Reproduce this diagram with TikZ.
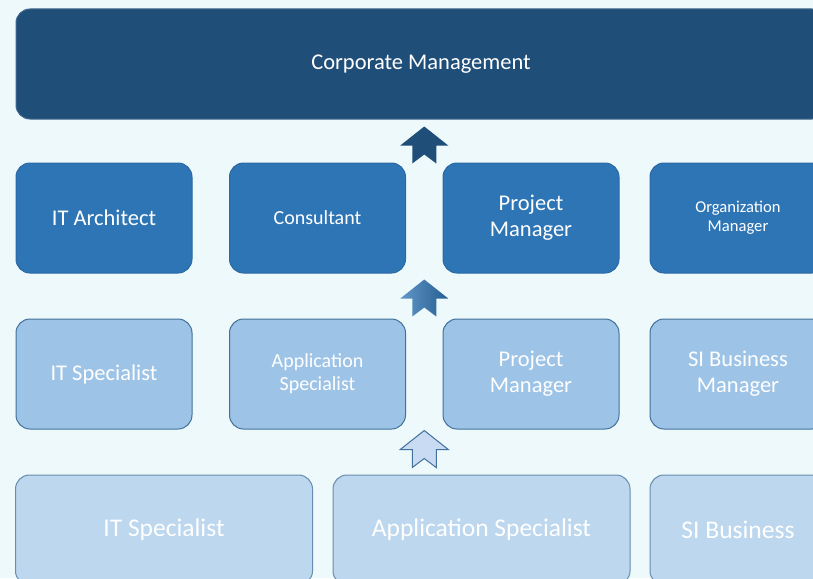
\documentclass[tikz,border=0pt]{standalone}
\usepackage{fontspec}
\setmainfont{Carlito}
\usepackage{xcolor}
\usetikzlibrary{positioning,calc}
\definecolor{darkblue}{HTML}{1F4E79}
\definecolor{midblue}{HTML}{2E75B6}
\definecolor{lightblue}{HTML}{9DC3E6}
\definecolor{paleblue}{HTML}{BDD7EE}
\definecolor{lineblue}{HTML}{41719C}
\definecolor{arrowpale}{HTML}{C9DBF2}
\definecolor{bgcyan}{HTML}{EEF9FB}

\tikzset{
  uparrow/.pic={
    \path[pic actions] (-12,0) -- (-12,-18) -- (-24,-18) -- (0,-37)
      -- (24,-18) -- (12,-18) -- (12,0) -- (0,-9) -- cycle;
  }
}

\begin{document}
\begin{tikzpicture}[
  x=1pt, y=-1pt,
  box/.style={rectangle, rounded corners=14pt, text=white, align=center,
    minimum height=110pt, inner sep=0pt, line width=1pt},
  top/.style={box, fill=darkblue, draw=darkblue!85!white, minimum width=810pt},
  senior/.style={box, fill=midblue, draw=midblue!90!black, minimum width=176pt},
  junior/.style={box, fill=lightblue, draw=lineblue, minimum width=176pt},
  entry/.style={box, fill=paleblue, draw=lineblue!80!white, minimum width=297pt},
  huge/.style={font=\fontsize{25.5}{30}\selectfont},
  big/.style={font=\fontsize{22.5}{26}\selectfont},
  mid/.style={font=\fontsize{20}{23}\selectfont},
  small/.style={font=\fontsize{16.6}{19}\selectfont}
]
\useasboundingbox (0,0) rectangle (813,578);
\clip (0,0) rectangle (813,578);
\fill[bgcyan] (0,0) rectangle (813,578);

% management
\node[top, big] (mgmt) at (421,64) {Corporate Management};

% senior level
\node[senior, big]   (arch) at (104,218)   {IT Architect};
\node[senior, mid]   (cons) at (317.5,218) {Consultant};
\node[senior, big]   (pm2)  at (531,218)   {Project\\Manager};
\node[senior, small] (org)  at (738,218)   {Organization\\Manager};

% specialist level
\node[junior, big] (its3) at (104,374)   {IT Specialist};
\node[junior, mid] (app3) at (317.5,374) {Application\\Specialist};
\node[junior, big] (pm3)  at (531,374)   {Project\\Manager};
\node[junior, big] (si3)  at (738,374)   {SI Business\\Manager};

% entry level
\node[entry, huge] (its4) at (164,530)   {IT Specialist};
\node[entry, huge] (app4) at (481.5,530) {Application Specialist};
\node[entry, huge, minimum width=176pt] (si4) at (738,530) {SI Business};

% block arrows
\pic[fill=darkblue] at ($(cons.north east)!0.5!(pm2.north west)+(0,1)$) {uparrow};
\pic[left color=midblue!75!white, right color=midblue!80!black]
  at ($(cons.south east)!0.5!(pm2.south west)+(0,43)$) {uparrow};
\pic[fill=arrowpale, draw=lineblue, line width=1pt]
  at ($(app3.south east)!0.5!(pm3.south west)+(0,38)$) {uparrow};
\end{tikzpicture}
\end{document}
